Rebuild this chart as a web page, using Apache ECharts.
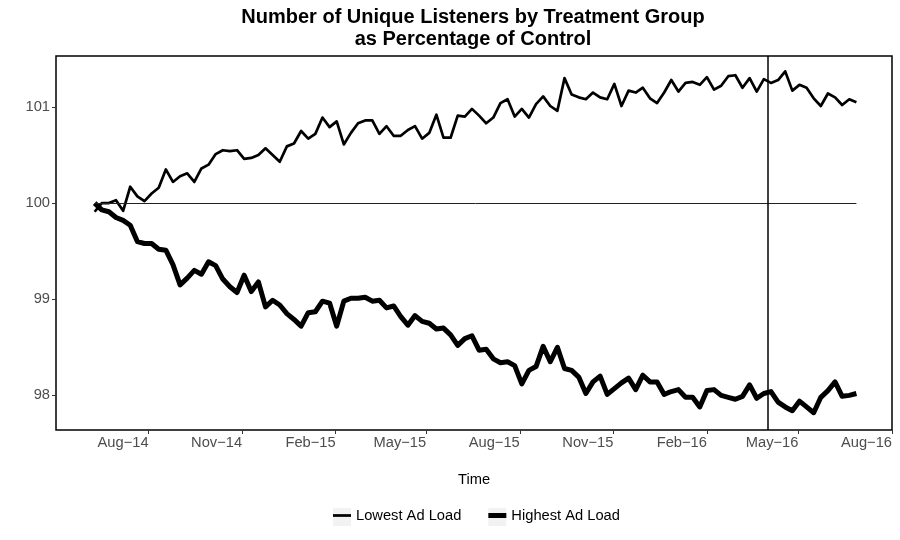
<!DOCTYPE html>
<html>
<head>
<meta charset="utf-8">
<script src="https://cdn.jsdelivr.net/npm/echarts@6/dist/echarts.min.js"></script>
<style>html,body{margin:0;padding:0;background:#fff}#c{width:900px;height:540px}</style>
</head>
<body>
<div id="c"></div>
<script>
// weekly observations starting Monday 2014-06-09
const startDate = '2014-06-09';
const stepDays = 7;
const lowest = [99.91,100.00,100.00,100.03,99.92,100.17,100.07,100.02,100.10,100.16,
100.35,100.22,100.28,100.31,100.22,100.36,100.40,100.51,100.55,100.54,
100.55,100.46,100.47,100.50,100.57,100.50,100.43,100.59,100.62,100.75,
100.67,100.72,100.89,100.79,100.85,100.61,100.73,100.83,100.86,100.86,
100.72,100.80,100.70,100.70,100.76,100.80,100.67,100.73,100.92,100.68,
100.68,100.91,100.90,100.98,100.91,100.83,100.89,101.04,101.08,100.90,
100.98,100.89,101.03,101.11,101.01,100.96,101.30,101.13,101.10,101.08,
101.15,101.10,101.08,101.24,101.01,101.17,101.15,101.20,101.09,101.04,
101.15,101.28,101.16,101.25,101.26,101.23,101.31,101.18,101.22,101.32,
101.33,101.20,101.30,101.16,101.29,101.25,101.28,101.37,101.17,101.23,
101.20,101.09,101.01,101.14,101.10,101.02,101.08,101.05];
const highest = [100.00,99.93,99.91,99.85,99.82,99.77,99.60,99.58,99.58,99.52,
99.51,99.36,99.15,99.22,99.30,99.26,99.39,99.35,99.21,99.13,
99.07,99.25,99.08,99.18,98.92,98.99,98.94,98.85,98.79,98.72,
98.86,98.87,98.98,98.96,98.72,98.98,99.01,99.01,99.02,98.98,
98.99,98.91,98.93,98.82,98.73,98.83,98.77,98.75,98.69,98.70,
98.63,98.52,98.59,98.62,98.47,98.48,98.38,98.34,98.35,98.31,
98.12,98.26,98.30,98.51,98.35,98.50,98.28,98.26,98.19,98.02,
98.14,98.20,98.01,98.07,98.13,98.18,98.06,98.21,98.14,98.14,
98.01,98.04,98.06,97.98,97.98,97.88,98.05,98.06,98.00,97.98,
97.96,97.99,98.11,97.97,98.02,98.04,97.93,97.88,97.84,97.94,
97.88,97.82,97.98,98.05,98.14,97.99,98.00,98.02];
const controlLevel = 100;
const seriesNames = ['Lowest Ad Load', 'Highest Ad Load'];
const xTickDates = ['2014-08-01','2014-11-01','2015-02-01','2015-05-01','2015-08-01','2015-11-01','2016-02-01','2016-05-01','2016-08-01'];
const yTicks = [98, 99, 100, 101];
const xRange = ['2014-05-02', '2016-08-01'];
const yRange = [97.64, 101.53];
const eventDate = '2016-04-01';
const monthNames = ['Jan','Feb','Mar','Apr','May','Jun','Jul','Aug','Sep','Oct','Nov','Dec'];

const FONT = 'Liberation Sans, Arial, Helvetica, sans-serif';
const DAY = 86400000;
function toTs(s) { const p = s.split('-').map(Number); return Date.UTC(p[0], p[1] - 1, p[2]); }
const t0 = toTs(startDate);
const dates = lowest.map(function (_, i) { return t0 + i * stepDays * DAY; });
const xTickTs = xTickDates.map(toTs);
function fmtDate(v) {
  const d = new Date(v);
  return monthNames[d.getUTCMonth()] + '\u2212' + String(d.getUTCFullYear()).slice(2);
}

const chart = echarts.init(document.getElementById('c'), null, { renderer: 'canvas' });
const legendBase = {
  left: 333, top: 508, padding: 0, itemWidth: 18, itemHeight: 18, itemGap: 27,
  selectedMode: false
};
chart.setOption({
  animation: false,
  backgroundColor: '#fff',
  title: {
    text: 'Number of Unique Listeners by Treatment Group\nas Percentage of Control',
    left: 473, top: 6, padding: 0, textAlign: 'center',
    textStyle: { fontFamily: FONT, fontSize: 20, fontWeight: 'bold', lineHeight: 22, color: '#000' }
  },
  grid: { left: 56, right: 8, top: 56, bottom: 110, show: true, borderColor: '#000', borderWidth: 1.5, backgroundColor: 'transparent' },
  xAxis: {
    type: 'value', min: toTs(xRange[0]), max: toTs(xRange[1]),
    name: 'Time', nameLocation: 'middle', nameGap: 42,
    nameTextStyle: { fontFamily: FONT, fontSize: 14.7, color: '#000' },
    axisLine: { show: false },
    axisTick: { show: true, customValues: xTickTs, length: 4, lineStyle: { color: '#333', width: 1 } },
    axisLabel: { customValues: xTickTs, formatter: fmtDate, align: 'right', margin: 5, color: '#4d4d4d', fontSize: 14.7, fontFamily: FONT },
    splitLine: { show: false }
  },
  yAxis: {
    type: 'value', min: yRange[0], max: yRange[1],
    axisLine: { show: false },
    axisTick: { show: true, customValues: yTicks, length: 4, lineStyle: { color: '#333', width: 1 } },
    axisLabel: { customValues: yTicks, margin: 6, color: '#4d4d4d', fontSize: 14.7, fontFamily: FONT },
    splitLine: { show: false }
  },
  legend: [
    Object.assign({}, legendBase, {
      data: seriesNames, icon: 'rect', itemStyle: { color: '#f2f2f2' }, z: 1,
      textStyle: { color: 'rgba(0,0,0,0)', fontSize: 14.7, fontFamily: FONT }
    }),
    Object.assign({}, legendBase, {
      data: [
        { name: seriesNames[0], icon: 'path://M0,0H33V5H0Z' },
        { name: seriesNames[1], icon: 'path://M0,0H18V5H0Z' }
      ], z: 2,
      textStyle: { color: '#000', fontSize: 14.7, fontFamily: FONT }
    })
  ],
  series: [
    {
      name: seriesNames[0], type: 'line', symbol: 'none', showSymbol: false,
      data: dates.map(function (d, i) { return [d, lowest[i]]; }),
      itemStyle: { color: '#000' },
      lineStyle: { color: '#000', width: 2.7, join: 'round' },
      z: 3,
      markLine: {
        silent: true, symbol: ['none', 'none'], label: { show: false }, animation: false,
        data: [
          [{ coord: [dates[0], controlLevel], lineStyle: { color: '#222', width: 1, type: 'solid' } },
           { coord: [dates[dates.length - 1], controlLevel] }],
          { xAxis: toTs(eventDate), lineStyle: { color: '#000', width: 1.5, type: 'solid' } }
        ]
      }
    },
    {
      name: seriesNames[1], type: 'line', symbol: 'none', showSymbol: false,
      data: dates.map(function (d, i) { return [d, highest[i]]; }),
      itemStyle: { color: '#000' },
      lineStyle: { color: '#000', width: 5, join: 'round' },
      z: 4
    }
  ]
});
</script>
</body>
</html>
